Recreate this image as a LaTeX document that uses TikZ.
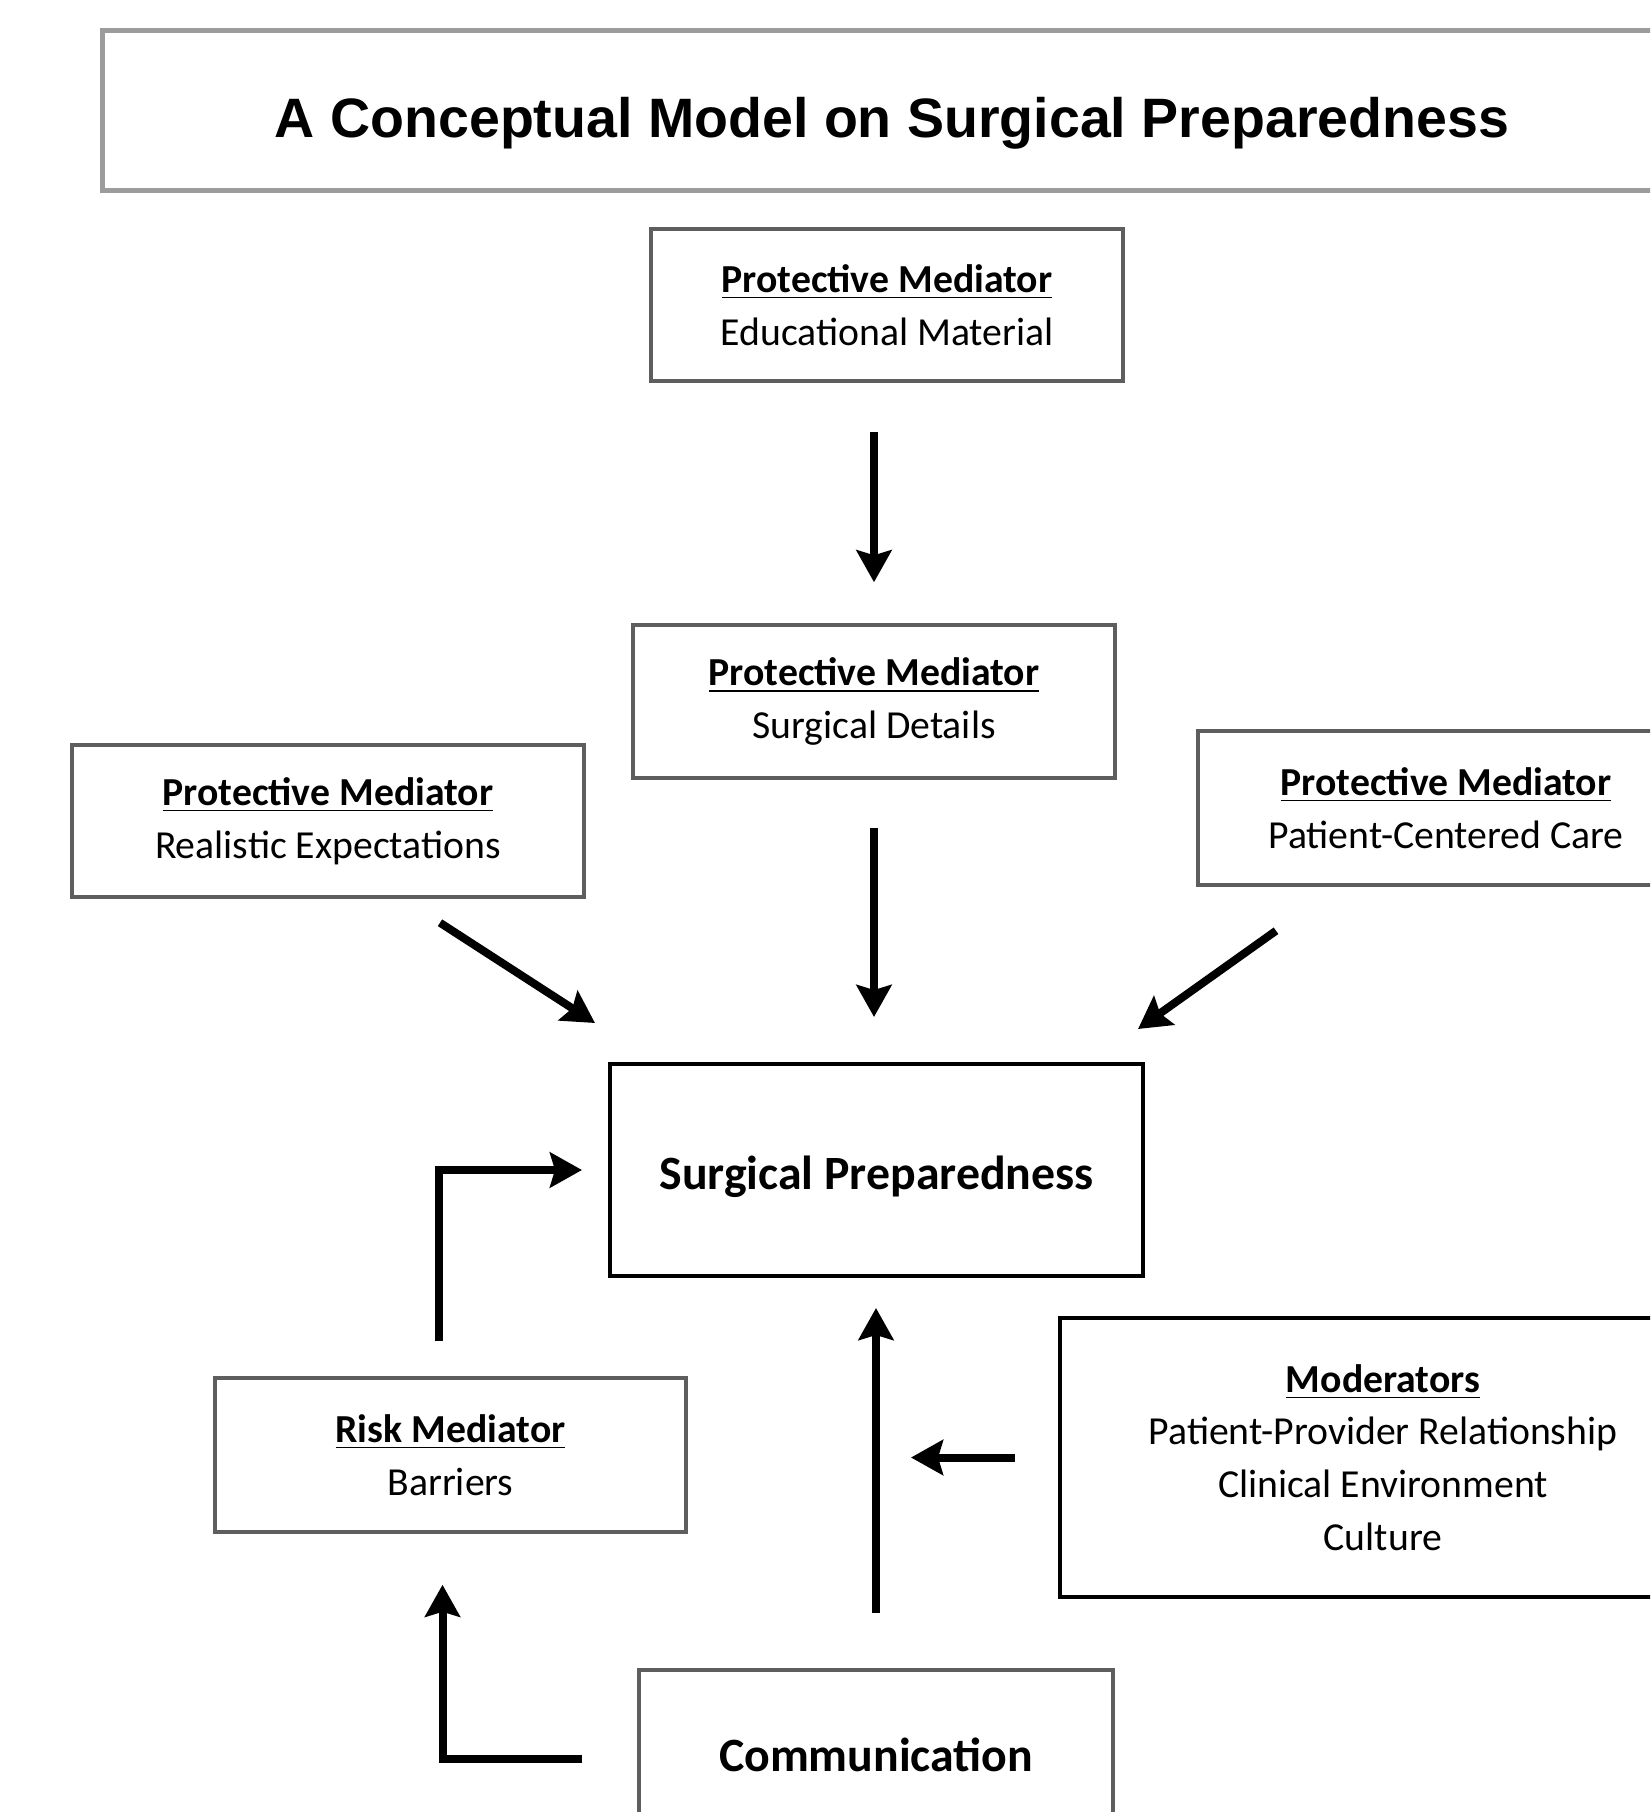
\documentclass[tikz,border=0pt]{standalone}
\usepackage{fontspec}
\setmainfont{Carlito}
\newfontfamily\titlefont{Liberation Sans}
\usetikzlibrary{arrows.meta,calc}
\definecolor{framegray}{HTML}{5E5E5E}
\definecolor{titlegray}{HTML}{9C9C9C}
\tikzstyle{box}=[draw=framegray,line width=0.35mm,fill=white,inner sep=0pt,align=center,font=\fontsize{11.3}{15}\selectfont]
\tikzstyle{darkbox}=[box,draw=black,line width=0.4mm]
\tikzstyle{arrow}=[line width=0.8mm,-{Stealth[length=3.2mm,width=3.5mm,inset=0.5mm]}]
\newcommand{\headline}[1]{\underline{\textbf{#1}}}

\begin{document}
\begin{tikzpicture}[x=0.1mm,y=-0.1mm]
	\useasboundingbox (0,0) rectangle (1650,1812);
	\clip (0,0) rectangle (1650,1812);
	% title
	\node[box,draw=titlegray,line width=0.5mm,minimum width=158mm,minimum height=16mm,text height=6.4mm,text depth=1.17mm] (title) at (892,111)
		{\titlefont\bfseries\fontsize{15.8}{19}\selectfont A Conceptual Model on Surgical Preparedness};
	% mediators
	\node[box,minimum width=47.2mm,minimum height=15.2mm] (edu) at (887,305)
		{\headline{Protective Mediator}\\Educational Material};
	\node[box,minimum width=48.2mm,minimum height=15.3mm] (details) at (874,701.5)
		{\headline{Protective Mediator}\\Surgical Details};
	\node[box,minimum width=51.2mm,minimum height=15.2mm] (expect) at (328,821)
		{\headline{Protective Mediator}\\Realistic Expectations};
	\node[box,minimum width=49.6mm,minimum height=15.4mm] (care) at (1446,808)
		{\headline{Protective Mediator}\\Patient-Centered Care};
	% outcome
	\node[darkbox,minimum width=53.3mm,minimum height=21.2mm,text height=5mm,text depth=1.2mm,font=\bfseries\fontsize{13.6}{16}\selectfont] (prep) at (876.5,1170)
		{Surgical Preparedness};
	\node[box,minimum width=47.1mm,minimum height=15.4mm] (barriers) at (450.5,1455)
		{\headline{Risk Mediator}\\Barriers};
	\node[darkbox,minimum width=64.6mm,minimum height=27.9mm] (moder) at (1383,1457.5)
		{\headline{Moderators}\\Patient-Provider Relationship\\Clinical Environment\\Culture};
	\node[box,minimum width=47.4mm,minimum height=17mm,font=\bfseries\fontsize{13.6}{16}\selectfont] (comm) at (876,1755)
		{Communication};
	% arrows
	\draw[arrow,shorten <=4.9mm,shorten >=4.1mm] (edu.south -| details.north) -- (details.north);
	\draw[arrow,shorten <=4.8mm,shorten >=4.5mm] (details.south) -- (details.south |- prep.north);
	\draw[arrow] ($(expect.south)+(112,24)$) -- ($(prep.north west)+(-13,-39)$);
	\draw[arrow] ($(care.south)+(-170,44)$) -- ($(prep.north east)+(-7,-33)$);
	\draw[arrow] ($(barriers.north)+(-12,-35)$) |- ($(prep.west)+(-26,0)$);
	\draw[arrow,shorten <=5.5mm,shorten >=3mm] (comm.north) -- (comm.north |- prep.south);
	\draw[arrow] ($(moder.west)+(-43,0)$) -- ($(moder.west)+(-147,0)$);
	\draw[arrow] ($(comm.west)+(-55,4)$) -| ($(barriers.south)+(-8,51)$);
\end{tikzpicture}
\end{document}
